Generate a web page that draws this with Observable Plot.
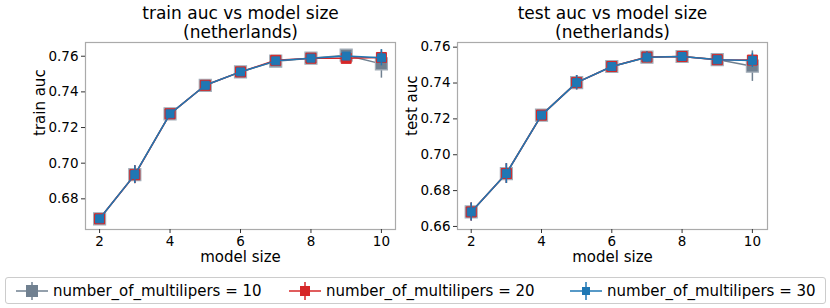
<!DOCTYPE html>
<html><head><meta charset="utf-8">
<script src="https://cdn.jsdelivr.net/npm/d3@7"></script>
<script src="https://cdn.jsdelivr.net/npm/@observablehq/plot@0.6"></script>
<style>
body{margin:0;background:#fff;font-family:"DejaVu Sans",sans-serif;}
#wrap{position:relative;width:830px;height:308px;overflow:hidden;background:#fff;}
#left{position:absolute;left:0;top:0;}
#right{position:absolute;left:400px;top:0;}
#legend{position:absolute;left:5px;top:277px;width:821px;height:27px;box-sizing:border-box;border:1px solid #cccccc;border-radius:3px;font-size:15px;color:#000;}
.item{position:absolute;top:0;height:25px;display:flex;align-items:center;white-space:nowrap;}
.item svg{margin-right:5px;}
</style></head>
<body>
<div id="wrap">
  <div id="left"></div>
  <div id="right"></div>
  <div id="legend"></div>
</div>
<script>
const modelSizes = [2, 3, 4, 5, 6, 7, 8, 9, 10];
const seriesNames = ["number_of_multilipers = 10", "number_of_multilipers = 20", "number_of_multilipers = 30"];
const seriesColors = ["#708090", "#d62728", "#1f77b4"];

// train auc (means, std error bars)
const train10 = [0.6688, 0.6936, 0.7277, 0.7437, 0.7512, 0.7572, 0.7589, 0.7606, 0.7557];
const train20 = [0.6688, 0.6935, 0.7277, 0.7437, 0.7512, 0.7577, 0.7589, 0.7588, 0.7593];
const train30 = [0.6688, 0.6936, 0.7277, 0.7437, 0.7512, 0.7574, 0.7589, 0.7601, 0.7591];
const trainErr10 = [0.001, 0.005, 0.001, 0.001, 0.001, 0.001, 0.001, 0.001, 0.008];
const trainErr20 = [0.001, 0.005, 0.001, 0.001, 0.001, 0.001, 0.001, 0.0025, 0.003];
const trainErr30 = [0.001, 0.005, 0.001, 0.001, 0.001, 0.001, 0.001, 0.001, 0.0045];

// test auc
const test10 = [0.6681, 0.6895, 0.7221, 0.7402, 0.7492, 0.7544, 0.7548, 0.7531, 0.7494];
const test20 = [0.6681, 0.6895, 0.7221, 0.7402, 0.7492, 0.7545, 0.7548, 0.7530, 0.7528];
const test30 = [0.6681, 0.6895, 0.7221, 0.7402, 0.7492, 0.7544, 0.7548, 0.7530, 0.7526];
const testErr10 = [0.005, 0.0055, 0.001, 0.004, 0.0015, 0.003, 0.002, 0.002, 0.0085];
const testErr20 = [0.005, 0.0055, 0.001, 0.004, 0.0015, 0.003, 0.002, 0.002, 0.003];
const testErr30 = [0.005, 0.0055, 0.001, 0.004, 0.0015, 0.003, 0.002, 0.002, 0.004];

const xTicks = [2, 4, 6, 8, 10];
const trainYTicks = [0.68, 0.70, 0.72, 0.74, 0.76];
const testYTicks = [0.66, 0.68, 0.70, 0.72, 0.74, 0.76];

const FONT = "DejaVu Sans";
const rad = side => side / Math.sqrt(Math.PI);
const markerStyles = [
  {r: rad(12), fill: "#708090", stroke: "#a3adb8", strokeWidth: 1.2},
  {r: rad(10), fill: "#d62728", stroke: "#d62728", strokeWidth: 1},
  {r: rad(8), fill: "#1f77b4", stroke: "#1f77b4", strokeWidth: 1}
];

function toRows(vals, errs) {
  return modelSizes.map((x, i) => ({x, y: vals[i], e: errs[i]}));
}

function panel(opts) {
  const seriesMarks = [];
  opts.series.forEach((s, k) => {
    const rows = toRows(s.vals, s.errs);
    const c = seriesColors[k];
    seriesMarks.push(Plot.line(rows, {x: "x", y: "y", stroke: c, strokeWidth: 1.5}));
    seriesMarks.push(Plot.ruleX(rows, {x: "x", y1: d => d.y - d.e, y2: d => d.y + d.e, stroke: c, strokeWidth: 1.5}));
    seriesMarks.push(Plot.dot(rows, {x: "x", y: "y", symbol: "square", ...markerStyles[k]}));
  });
  return Plot.plot({
    width: opts.width,
    height: 270,
    marginLeft: opts.marginLeft,
    marginRight: opts.marginRight,
    marginTop: 42,
    marginBottom: 41,
    style: {fontFamily: FONT, fontSize: "13.5px", color: "#000", background: "white"},
    x: {domain: opts.xDomain},
    y: {domain: opts.yDomain},
    marks: [
      Plot.frame({stroke: "#aaaaaa", strokeWidth: 1.2}),
      Plot.axisX({ticks: xTicks, tickSize: 4, tickPadding: 3, label: null, stroke: "#333", fontSize: 13.5, tickFormat: d3.format("d")}),
      Plot.axisY({ticks: opts.yTicks, tickSize: 4, tickPadding: 3, label: null, stroke: "#333", fontSize: 13.5, tickFormat: d3.format(".2f")}),
      Plot.text([opts.title1], {text: d => d, frameAnchor: "top", dy: -29, lineAnchor: "middle", fontSize: 17, fill: "#000"}),
      Plot.text([opts.title2], {text: d => d, frameAnchor: "top", dy: -10, lineAnchor: "middle", fontSize: 17, fill: "#000"}),
      Plot.text(["model size"], {text: d => d, frameAnchor: "bottom", dy: 28, lineAnchor: "middle", fontSize: 15, fill: "#000"}),
      Plot.text([opts.yLabel], {text: d => d, frameAnchor: "left", dx: -45, rotate: -90, lineAnchor: "middle", fontSize: 15, fill: "#000"}),
      ...seriesMarks
    ]
  });
}

document.getElementById("left").append(panel({
  width: 400, marginLeft: 85, marginRight: 5,
  xDomain: [1.6, 10.4], yDomain: [0.6628, 0.7677],
  yTicks: trainYTicks,
  title1: "train auc vs model size", title2: "(netherlands)", yLabel: "train auc",
  series: [{vals: train10, errs: trainErr10}, {vals: train20, errs: trainErr20}, {vals: train30, errs: trainErr30}]
}));

document.getElementById("right").append(panel({
  width: 430, marginLeft: 57, marginRight: 63,
  xDomain: [1.61, 10.43], yDomain: [0.6583, 0.7626],
  yTicks: testYTicks,
  title1: "test auc vs model size", title2: "(netherlands)", yLabel: "test auc",
  series: [{vals: test10, errs: testErr10}, {vals: test20, errs: testErr20}, {vals: test30, errs: testErr30}]
}));

// legend
const legend = document.getElementById("legend");
const legendLeft = [10, 283, 564];
const legendSides = [12, 10, 8];
seriesNames.forEach((name, k) => {
  const item = document.createElement("div");
  item.className = "item";
  item.style.left = legendLeft[k] + "px";
  const s = legendSides[k];
  const c = seriesColors[k];
  item.innerHTML =
    `<svg width="32" height="24" viewBox="0 0 32 24">` +
    `<line x1="0" y1="12" x2="32" y2="12" stroke="${c}" stroke-width="1.5"/>` +
    `<line x1="16" y1="3" x2="16" y2="21" stroke="${c}" stroke-width="1.5"/>` +
    `<rect x="${16 - s / 2}" y="${12 - s / 2}" width="${s}" height="${s}" fill="${c}"/>` +
    `</svg><span>${name}</span>`;
  legend.append(item);
});
</script>
</body></html>
